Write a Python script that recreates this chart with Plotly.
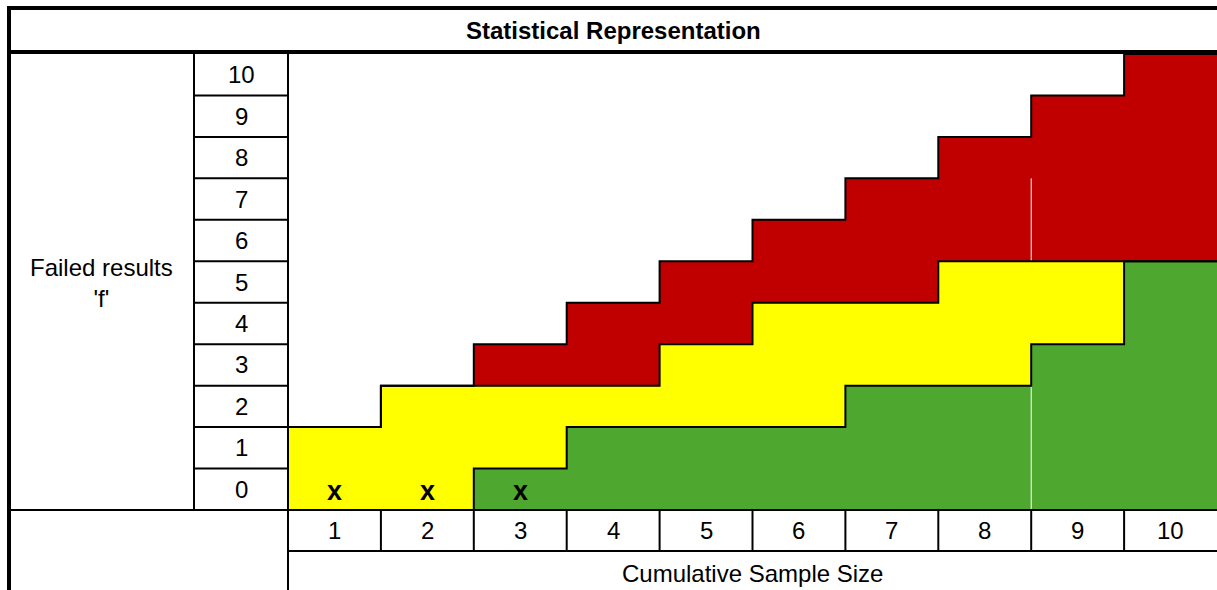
import plotly.graph_objects as go

# ---------------- data ----------------
samples = [1, 2, 3, 4, 5, 6, 7, 8, 9, 10]            # cumulative sample size
failed_levels = [0, 1, 2, 3, 4, 5, 6, 7, 8, 9, 10]    # failed results 'f'
green_cells = [0, 0, 1, 2, 2, 2, 3, 3, 4, 6]          # accept zone (rows from 0)
yellow_cells = [2, 3, 2, 1, 2, 3, 2, 3, 2, 0]         # continue zone
red_cells = [0, 0, 1, 2, 2, 2, 3, 3, 4, 5]            # reject zone
result_samples = [1, 2, 3]                            # observed results
result_failed = [0, 0, 0]

title_text = "Statistical Representation"
y_label = "Failed results<br>'f'"
x_label = "Cumulative Sample Size"

GREEN = "#4EA72E"
YELLOW = "#FFFF00"
RED = "#C00000"
FONT = "Liberation Sans, Arial, sans-serif"
FS = 24

W, H = 1217, 590

# ---- geometry helpers (pixel -> paper) ----
def px(x):
    return x / W

def py(y):
    return 1 - y / H

# axis ranges chosen so that cells map onto the table grid
X_LEFT_PX, COL_W = 288.0, 92.9
ROW_BOTTOM_PX, ROW_H = 510.0, 456.0 / 11
x0 = 0.5 - X_LEFT_PX / COL_W
x1 = 0.5 + (W - X_LEFT_PX) / COL_W
y1 = -0.5 + ROW_BOTTOM_PX / ROW_H
y0 = -0.5 - (H - ROW_BOTTOM_PX) / ROW_H

g_base = [-0.5] * len(samples)
y_base = [b + g for b, g in zip(g_base, green_cells)]
r_base = [b + y for b, y in zip(y_base, yellow_cells)]
r_top = [b + r for b, r in zip(r_base, red_cells)]

fig = go.Figure()
for name, vals, base, col in [("Accept", green_cells, g_base, GREEN),
                              ("Continue", yellow_cells, y_base, YELLOW),
                              ("Reject", red_cells, r_base, RED)]:
    fig.add_trace(go.Bar(x=samples, y=vals, base=base, width=1,
                         marker=dict(color=col, line=dict(width=0)),
                         name=name, hoverinfo="skip"))

# faint white cell seam between columns 8 and 9
for ya, yb in [(-0.5, 2.5), (5.5, 7.5)]:
    fig.add_trace(go.Scatter(x=[8.5, 8.5], y=[ya, yb], mode="lines",
                             line=dict(color="white", width=1), hoverinfo="skip"))

# zone boundaries as step lines
edges = [s - 0.5 for s in samples] + [samples[-1] + 0.5]
for tops in (y_base, r_base, r_top):
    fig.add_trace(go.Scatter(x=edges, y=tops + [tops[-1]], mode="lines",
                             line=dict(color="black", width=2, shape="hv"),
                             hoverinfo="skip"))

shapes = []
def hline(y, xa, xb, w=2, yref="paper"):
    shapes.append(dict(type="line", xref="paper", yref=yref, x0=px(xa), x1=px(xb),
                       y0=y, y1=y, line=dict(color="black", width=w)))

def vline(x, ya, yb, w=2, xref="paper"):
    shapes.append(dict(type="line", xref=xref, yref="paper", x0=x, x1=x,
                       y0=py(ya), y1=py(yb), line=dict(color="black", width=w)))

# outer frame and title row
hline(py(8), 7, W, 4)
hline(py(52), 7, W, 4)
vline(px(9), 6, H, 4)
# label column
vline(px(194), 54, 510)
vline(px(288), 54, H)
for f in failed_levels[1:]:
    hline(f - 0.5, 194, 288, 2, yref="y")
hline(py(510), 9, W)
# sample size row
for s in samples[1:]:
    shapes.append(dict(type="line", xref="x", yref="paper", x0=s - 0.5, x1=s - 0.5,
                       y0=py(510), y1=py(551), line=dict(color="black", width=2)))
hline(py(551), 288, W)

annotations = []
txt = dict(family=FONT, size=FS, color="black")
def ann(text, x, y, xref="paper", yref="paper", font=txt, **kw):
    annotations.append(dict(text=text, x=x, y=y, xref=xref, yref=yref, showarrow=False,
                            xanchor="center", yanchor="middle", font=font, **kw))

ann(f"<b>{title_text}</b>", px(613), py(31))
for f in failed_levels:
    ann(str(f), px(241), f, yref="y")
for s in samples:
    ann(str(s), s, py(530.5), xref="x")
ann(y_label, px(101), py(283))
ann(x_label, px(752.5), py(573))

# observed results, marked with a bold x in their cell
xfont = dict(family=FONT, size=27, color="black")
for s, f in zip(result_samples, result_failed):
    ann("<b>x</b>", s, f, xref="x", yref="y", font=xfont, yshift=-2)

fig.update_layout(
    width=W, height=H, margin=dict(l=0, r=0, t=0, b=0),
    barmode="overlay", bargap=0, showlegend=False,
    plot_bgcolor="white", paper_bgcolor="white",
    xaxis=dict(range=[x0, x1], visible=False, fixedrange=True),
    yaxis=dict(range=[y0, y1], visible=False, fixedrange=True),
    shapes=shapes, annotations=annotations,
)

fig.write_html("out.html", config={"displayModeBar": False, "staticPlot": True},
               post_script="document.body.style.margin='0';document.body.style.overflow='hidden';")
